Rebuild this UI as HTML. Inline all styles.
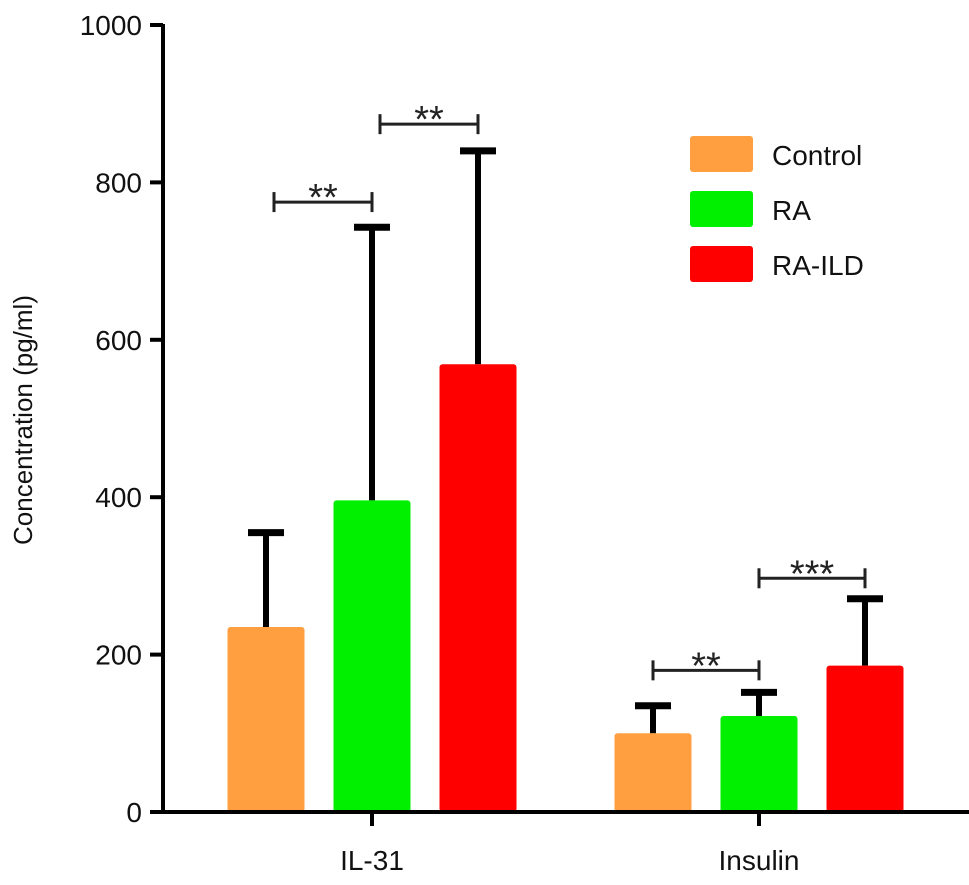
<!DOCTYPE html>
<html><head><meta charset="utf-8"><style>
body{margin:0;background:#fff}
svg{display:block;font-family:"Liberation Sans",Arial,sans-serif}
</style></head><body>
<svg id="chart" width="969" height="885"></svg>
<script>
const groups = ["IL-31", "Insulin"];
const series = ["Control", "RA", "RA-ILD"];
const colors = ["#FF9F40", "#00F000", "#FF0000"];
const meanIL31 = [235, 396, 569];
const errIL31 = [120, 347, 271];
const meanInsulin = [100, 122, 186];
const errInsulin = [35, 30, 85];
const yTicks = [0, 200, 400, 600, 800, 1000];
const sigLabels = ["**", "**", "**", "***"];
const sigLevels = [775, 874, 180, 297];

const NS = "http://www.w3.org/2000/svg";
const svg = document.getElementById("chart");
const y0 = 812, ppu = 0.787;
const y = v => y0 - v * ppu;
const groupX = [372, 759];
const barOff = 106, barW = 77;
const barX = (g, s) => groupX[g] + (s - 1) * barOff;
function el(tag, attrs, parent) {
  const e = document.createElementNS(NS, tag);
  for (const k in attrs) e.setAttribute(k, attrs[k]);
  (parent || svg).appendChild(e);
  return e;
}
const ax = el("line", {x1:163, y1:y(1000)-1, x2:163, y2:y0+2, stroke:"#000","stroke-width":4});


yTicks.forEach(t => {
  const tk = el("line", {x1:150, y1:y(t), x2:163, y2:y(t), stroke:"#000","stroke-width":4});
  
  
  const tl = el("text", {x:142, y:y(t)+10, "text-anchor":"end","font-size":28, fill:"#111"});
  tl.textContent = t;
  
  
});
const yt = el("text", {x:0, y:0, transform:"translate(32,420) rotate(-90)","text-anchor":"middle","font-size":26, fill:"#111"});
yt.textContent = "Concentration (pg/ml)";



const means = [meanIL31, meanInsulin], errs = [errIL31, errInsulin];
groups.forEach((g, gi) => {
  series.forEach((s, si) => {
    const cx = barX(gi, si), m = means[gi][si], e = errs[gi][si];
    const eb = el("line", {x1:cx, y1:y(m), x2:cx, y2:y(m+e), stroke:"#000","stroke-width":6});
    
    
    const cap = el("line", {x1:cx-18, y1:y(m+e), x2:cx+18, y2:y(m+e), stroke:"#000","stroke-width":7});
    
    
    const r = el("rect", {x:cx-barW/2, y:y(m), width:barW, height:m*ppu, fill:colors[si], rx:3});
    
    
  });
  const tk = el("line", {x1:groupX[gi], y1:y0, x2:groupX[gi], y2:y0+14, stroke:"#000","stroke-width":4});
  
  
  const xl = el("text", {x:groupX[gi], y:870, "text-anchor":"middle","font-size":28, fill:"#111"});
  xl.textContent = g;
  
  
});
const xa = el("line", {x1:161, y1:y0, x2:969, y2:y0, stroke:"#000","stroke-width":4});



const sigPairs = [[0,0,1],[0,1,2],[1,0,1],[1,1,2]];
sigPairs.forEach((p, i) => {
  const xa1 = barX(p[0], p[1]) + (p[0] === 0 ? 8 : 0), xa2 = barX(p[0], p[2]);
  const yy = y(sigLevels[i]);
  const g = el("g", {});
  
  
  el("line", {x1:xa1, y1:yy, x2:xa2, y2:yy, stroke:"#222","stroke-width":3}, g);
  el("line", {x1:xa1, y1:yy-10, x2:xa1, y2:yy+10, stroke:"#222","stroke-width":3}, g);
  el("line", {x1:xa2, y1:yy-10, x2:xa2, y2:yy+10, stroke:"#222","stroke-width":3}, g);
  const t = el("text", {x:(xa1+xa2)/2, y:yy+8, "text-anchor":"middle","font-size":38, fill:"#222"}, g);
  t.textContent = sigLabels[i];
});

series.forEach((s, i) => {
  const g = el("g", {});
  
  
  el("rect", {x:690, y:136 + i*55, width:63, height:36, fill:colors[i], rx:3}, g);
  const t = el("text", {x:772, y:165 + i*55, "font-size":28, fill:"#111"}, g);
  t.textContent = s;
});
</script>
</body></html>
